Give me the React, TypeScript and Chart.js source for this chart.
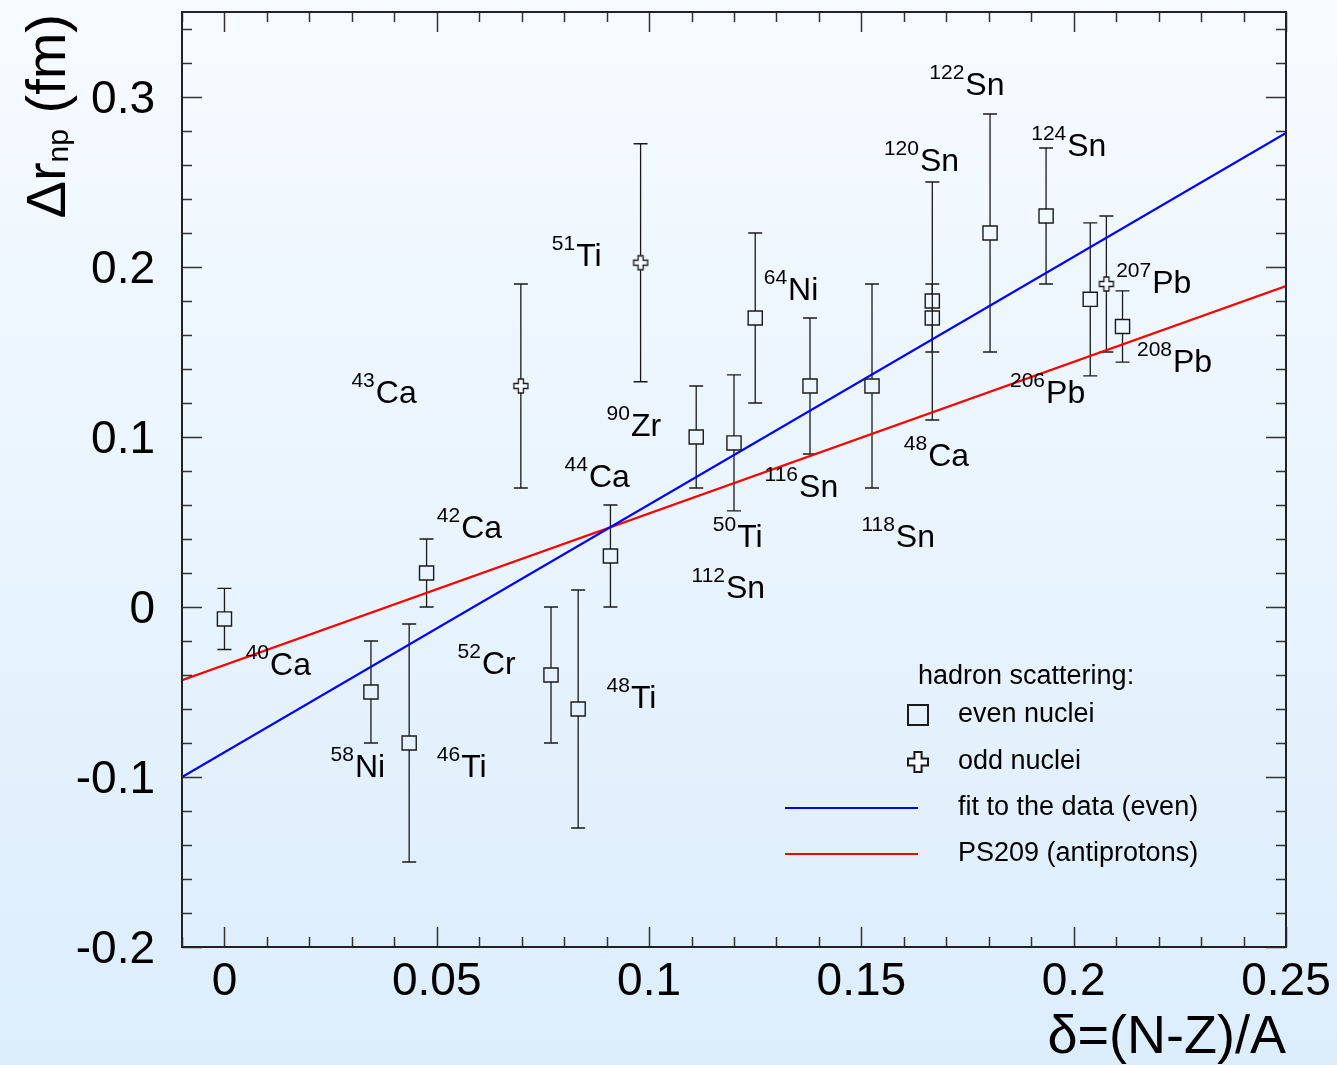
import React, { useEffect, useRef } from "react";
import { Chart, registerables } from "chart.js";
Chart.register(...registerables);

// ---------- data ----------
// even nuclei (hadron scattering)
const evenNames = ["40Ca", "58Ni", "46Ti", "42Ca", "52Cr", "48Ti", "44Ca", "90Zr", "50Ti", "64Ni", "116Sn", "118Sn", "120Sn", "48Ca", "122Sn", "124Sn", "206Pb", "208Pb"];
const evenDelta = [0.0, 0.0345, 0.0435, 0.0476, 0.0769, 0.0833, 0.0909, 0.1111, 0.12, 0.125, 0.1379, 0.1525, 0.1667, 0.1667, 0.1803, 0.1935, 0.2039, 0.2115];
const evenDrnp = [-0.007, -0.05, -0.08, 0.02, -0.04, -0.06, 0.03, 0.1, 0.0965, 0.17, 0.13, 0.13, 0.18, 0.17, 0.22, 0.23, 0.181, 0.165];
const evenErr = [0.018, 0.03, 0.07, 0.02, 0.04, 0.07, 0.03, 0.03, 0.04, 0.05, 0.04, 0.06, 0.07, 0.02, 0.07, 0.04, 0.045, 0.021];

// odd nuclei
const oddNames = ["43Ca", "51Ti", "207Pb"];
const oddDelta = [0.0698, 0.098, 0.2077];
const oddDrnp = [0.13, 0.2025, 0.19];
const oddErr = [0.06, 0.07, 0.04];

// straight lines (end points)
const fitX = [-0.01, 0.25];
const fitY = [-0.1, 0.2788];
const ps209X = [-0.01, 0.25];
const ps209Y = [-0.043, 0.1888];

// nucleus labels: mass number, element, anchor (delta, drnp of label centre line)
const labelMass = ["43", "51", "64", "90", "44", "42", "40", "58", "46", "52", "48", "112", "50", "116", "118", "48", "120", "122", "124", "207", "206", "208"];
const labelElem = ["Ca", "Ti", "Ni", "Zr", "Ca", "Ca", "Ca", "Ni", "Ti", "Cr", "Ti", "Sn", "Ti", "Sn", "Sn", "Ca", "Sn", "Sn", "Sn", "Pb", "Pb", "Pb"];
const labelX = [0.0299, 0.0771, 0.127, 0.09, 0.0801, 0.05, 0.005, 0.025, 0.05, 0.0549, 0.09, 0.11, 0.115, 0.1272, 0.15, 0.16, 0.1553, 0.166, 0.19, 0.21, 0.185, 0.2149];
const labelY = [0.1265, 0.207, 0.187, 0.107, 0.077, 0.047, -0.0335, -0.0935, -0.0935, -0.033, -0.053, 0.0118, 0.0418, 0.0712, 0.0418, 0.0894, 0.263, 0.3076, 0.2718, 0.191, 0.1265, 0.1447];

// axes
const xMin = -0.01;
const xMax = 0.25;
const yMin = -0.2;
const yMax = 0.35;
const xTickValues = [0, 0.05, 0.1, 0.15, 0.2, 0.25];
const xTickLabels = ["0", "0.05", "0.1", "0.15", "0.2", "0.25"];
const yTickValues = [-0.2, -0.1, 0, 0.1, 0.2, 0.3];
const yTickLabels = ["-0.2", "-0.1", "0", "0.1", "0.2", "0.3"];
const xMinorStep = 0.01;
const yMinorStep = 0.02;

const legendTitle = "hadron scattering:";
const legendLabels = ["even nuclei", "odd nuclei", "fit to the data (even)", "PS209 (antiprotons)"];

const FONT = '"Liberation Sans", Arial, Helvetica, sans-serif';
const INK = "#1a1a1a";

function makeCrossImage(size: number, lw: number) {
  const c = document.createElement("canvas");
  const pad = 2;
  c.width = size + pad * 2;
  c.height = size + pad * 2;
  const g = c.getContext("2d")!;
  const h = size / 2;
  const a = size * 0.18;
  const cx = c.width / 2;
  const cy = c.height / 2;
  g.beginPath();
  g.moveTo(cx - a, cy - h);
  g.lineTo(cx + a, cy - h);
  g.lineTo(cx + a, cy - a);
  g.lineTo(cx + h, cy - a);
  g.lineTo(cx + h, cy + a);
  g.lineTo(cx + a, cy + a);
  g.lineTo(cx + a, cy + h);
  g.lineTo(cx - a, cy + h);
  g.lineTo(cx - a, cy + a);
  g.lineTo(cx - h, cy + a);
  g.lineTo(cx - h, cy - a);
  g.lineTo(cx - a, cy - a);
  g.closePath();
  g.fillStyle = "#f7fbff";
  g.fill();
  g.lineWidth = lw;
  g.strokeStyle = INK;
  g.stroke();
  return c;
}

function drawErrors(ctx: CanvasRenderingContext2D, xs: any, ys: any, xd: number[], yd: number[], ed: number[], gap: number) {
  for (let i = 0; i < xd.length; i++) {
    const px = xs.getPixelForValue(xd[i]);
    const py = ys.getPixelForValue(yd[i]);
    const pt = ys.getPixelForValue(yd[i] + ed[i]);
    const pb = ys.getPixelForValue(yd[i] - ed[i]);
    ctx.beginPath();
    ctx.moveTo(px, pt);
    ctx.lineTo(px, py - gap);
    ctx.moveTo(px, py + gap);
    ctx.lineTo(px, pb);
    ctx.moveTo(px - 7, pt);
    ctx.lineTo(px + 7, pt);
    ctx.moveTo(px - 7, pb);
    ctx.lineTo(px + 7, pb);
    ctx.stroke();
  }
}

const decorPlugin = {
  id: "decor",
  beforeDatasetsDraw(chart: any) {
    const { ctx, scales } = chart;
    ctx.save();
    ctx.strokeStyle = INK;
    ctx.lineWidth = 1.3;
    drawErrors(ctx, scales.x, scales.y, evenDelta, evenDrnp, evenErr, 7);
    drawErrors(ctx, scales.x, scales.y, oddDelta, oddDrnp, oddErr, 7);
    ctx.restore();
  },
  afterDatasetsDraw(chart: any) {
    const { ctx, chartArea, scales } = chart;
    const xs = scales.x;
    const ys = scales.y;
    const { left, right, top, bottom } = chartArea;
    ctx.save();

    // ticks
    ctx.strokeStyle = "#333";
    ctx.lineWidth = 1.5;
    const nx0 = Math.round(xMin / xMinorStep);
    const nx1 = Math.round(xMax / xMinorStep);
    for (let i = nx0; i <= nx1; i++) {
      const v = i * xMinorStep;
      const major = i % 5 === 0;
      const len = major ? 20 : 10;
      const px = Math.round(xs.getPixelForValue(v)) + 0.5;
      ctx.beginPath();
      ctx.moveTo(px, bottom);
      ctx.lineTo(px, bottom - len);
      ctx.moveTo(px, top);
      ctx.lineTo(px, top + len);
      ctx.stroke();
    }
    const ny0 = Math.round(yMin / yMinorStep);
    const ny1 = Math.floor(yMax / yMinorStep + 1e-6);
    for (let i = ny0; i <= ny1; i++) {
      const v = i * yMinorStep;
      const major = i % 5 === 0;
      const len = major ? 20 : 10;
      const py = Math.round(ys.getPixelForValue(v)) + 0.5;
      ctx.beginPath();
      ctx.moveTo(left, py);
      ctx.lineTo(left + len, py);
      ctx.moveTo(right, py);
      ctx.lineTo(right - len, py);
      ctx.stroke();
    }

    // frame
    ctx.strokeStyle = "#222";
    ctx.lineWidth = 2;
    ctx.strokeRect(left, top, right - left, bottom - top);

    // tick labels
    ctx.fillStyle = "#000";
    ctx.font = `46px ${FONT}`;
    ctx.textBaseline = "alphabetic";
    ctx.textAlign = "center";
    xTickValues.forEach((v, i) => {
      ctx.fillText(xTickLabels[i], xs.getPixelForValue(v), bottom + 48);
    });
    ctx.textAlign = "right";
    yTickValues.forEach((v, i) => {
      ctx.fillText(yTickLabels[i], left - 27, ys.getPixelForValue(v) + 16);
    });

    // x title
    ctx.font = `54px ${FONT}`;
    ctx.textAlign = "right";
    ctx.fillText("\u03b4=(N-Z)/A", right, bottom + 106);

    // y title (rotated)
    ctx.save();
    ctx.translate(65, 14);
    ctx.rotate(-Math.PI / 2);
    ctx.textAlign = "left";
    const mainF = `56px ${FONT}`;
    const subF = `30px ${FONT}`;
    ctx.font = mainF;
    const w1 = ctx.measureText("\u0394r").width;
    ctx.font = subF;
    const w2 = ctx.measureText("np").width;
    ctx.font = mainF;
    const w3 = ctx.measureText(" (fm)").width;
    let cx = -(w1 + w2 + w3);
    ctx.font = mainF;
    ctx.fillText("\u0394r", cx, 0);
    cx += w1;
    ctx.font = subF;
    ctx.fillText("np", cx, 3);
    cx += w2;
    ctx.font = mainF;
    ctx.fillText(" (fm)", cx, 0);
    ctx.restore();

    // nucleus labels
    ctx.textAlign = "left";
    ctx.textBaseline = "alphabetic";
    for (let i = 0; i < labelMass.length; i++) {
      const px = xs.getPixelForValue(labelX[i]);
      const py = ys.getPixelForValue(labelY[i]);
      ctx.font = `21px ${FONT}`;
      const ws = ctx.measureText(labelMass[i]).width;
      ctx.fillText(labelMass[i], px, py - 5);
      ctx.font = `32px ${FONT}`;
      ctx.fillText(labelElem[i], px + ws + 1, py + 11);
    }

    // legend
    ctx.font = `27px ${FONT}`;
    ctx.textBaseline = "middle";
    ctx.fillStyle = "#000";
    ctx.fillText(legendTitle, 918, 677);
    const rowsY = [715, 762, 808, 854];
    legendLabels.forEach((t, i) => ctx.fillText(t, 958, rowsY[i]));
    ctx.strokeStyle = INK;
    ctx.lineWidth = 2;
    ctx.strokeRect(918 - 10, rowsY[0] - 10, 20, 20);
    const crossImg = makeCrossImage(20, 2);
    ctx.drawImage(crossImg, 918 - crossImg.width / 2, rowsY[1] - crossImg.height / 2);
    ctx.lineWidth = 2;
    ctx.strokeStyle = "#0000ff";
    ctx.beginPath();
    ctx.moveTo(785, rowsY[2]);
    ctx.lineTo(918, rowsY[2]);
    ctx.stroke();
    ctx.strokeStyle = "#ff0000";
    ctx.beginPath();
    ctx.moveTo(785, rowsY[3]);
    ctx.lineTo(918, rowsY[3]);
    ctx.stroke();

    ctx.restore();
  },
};

export default function App() {
  const ref = useRef<HTMLCanvasElement | null>(null);
  useEffect(() => {
    const canvas = ref.current!;
    const cross = makeCrossImage(14, 1.3);
    const chart = new Chart(canvas, {
      type: "scatter",
      data: {
        datasets: [
          {
            label: "even nuclei",
            data: evenDelta.map((x, i) => ({ x, y: evenDrnp[i] })),
            pointStyle: "rect",
            pointRadius: 10,
            pointHoverRadius: 10,
            backgroundColor: "rgba(0,0,0,0)",
            borderColor: INK,
            borderWidth: 1.4,
            showLine: false,
          },
          {
            label: "odd nuclei",
            data: oddDelta.map((x, i) => ({ x, y: oddDrnp[i] })),
            pointStyle: cross as any,
            pointRadius: 8,
            showLine: false,
          },
          {
            label: "fit to the data (even)",
            data: fitX.map((x, i) => ({ x, y: fitY[i] })),
            showLine: true,
            borderColor: "#0000ff",
            borderWidth: 2.2,
            pointRadius: 0,
            fill: false,
          },
          {
            label: "PS209 (antiprotons)",
            data: ps209X.map((x, i) => ({ x, y: ps209Y[i] })),
            showLine: true,
            borderColor: "#ff0000",
            borderWidth: 2.2,
            pointRadius: 0,
            fill: false,
          },
        ],
      },
      options: {
        responsive: false,
        animation: false,
        devicePixelRatio: 1,
        layout: { padding: { left: 182, right: 51, top: 12, bottom: 118 } },
        plugins: { legend: { display: false }, tooltip: { enabled: false } },
        events: [],
        scales: {
          x: { type: "linear", min: xMin, max: xMax, display: false },
          y: { type: "linear", min: yMin, max: yMax, display: false },
        },
      },
      plugins: [decorPlugin],
    });
    return () => chart.destroy();
  }, []);
  return (
    <div
      style={{
        position: "absolute",
        left: 0,
        top: 0,
        width: 1337,
        height: 1065,
        background: "linear-gradient(to bottom, #f6fbff 0%, #e9f4fe 50%, #dcedfc 100%)",
      }}
    >
      <canvas ref={ref} width={1337} height={1065} style={{ display: "block" }} />
    </div>
  );
}
